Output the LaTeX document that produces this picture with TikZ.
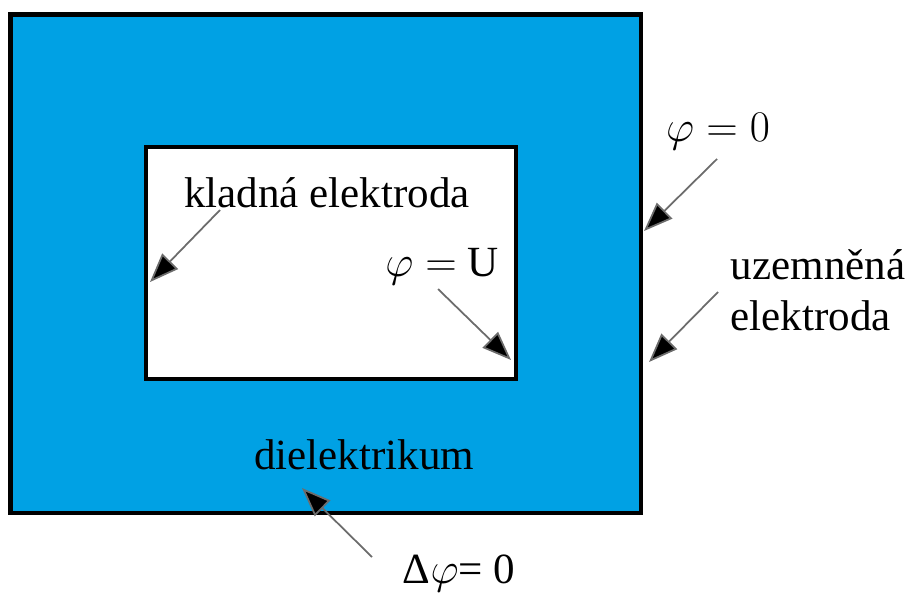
\documentclass[tikz,border=0pt]{standalone}
\usepackage{fontspec}
\setmainfont{Liberation Serif}
\usepackage{tikz}
\usetikzlibrary{arrows.meta}
\definecolor{dielblue}{HTML}{00A1E4}
\tikzset{
  lbl/.style={font=\fontsize{24.5}{29}\selectfont, inner sep=0pt},
  pointer/.style={draw=gray!85!black, line width=1pt, -{Triangle[length=0.58cm, width=0.44cm, fill=black]}}
}

\begin{document}
\begin{tikzpicture}[x=0.02cm, y=-0.02cm]
\useasboundingbox (0,0) rectangle (915,592);
% electrodes
\draw[line width=2.8pt, fill=dielblue] (10.5,14.5) rectangle (641,513);
\draw[line width=2.8pt, fill=white] (146,147) rectangle (516,379);
% labels
\node[lbl] (klad) at (327,193) {kladná elektroda};
\node[lbl] (phiU) at (442,267) {$\varphi = $ U};
\node[lbl] (phi0) at (718,132) {$\varphi = 0$};
\node[lbl, align=left] (uzem) at (818,290) {uzemněná\\elektroda};
\node[lbl] (diel) at (364,455) {dielektrikum};
\node[lbl] (lapl) at (459,573) {Δ$\varphi$= 0};
% arrow ends
\coordinate (kladS) at (220,210);
\coordinate (kladT) at (150,282);
\coordinate (phiUS) at (438,289);
\coordinate (phiUT) at (511,360);
\coordinate (phi0S) at (717,159);
\coordinate (phi0T) at (644,231);
\coordinate (uzemS) at (718,292);
\coordinate (uzemT) at (649,362);
\coordinate (laplS) at (372,557);
\coordinate (laplT) at (302,488);
\draw[pointer] (kladS) -- (kladT);
\draw[pointer] (phiUS) -- (phiUT);
\draw[pointer] (phi0S) -- (phi0T);
\draw[pointer] (uzemS) -- (uzemT);
\draw[pointer] (laplS) -- (laplT);
\end{tikzpicture}
\end{document}
